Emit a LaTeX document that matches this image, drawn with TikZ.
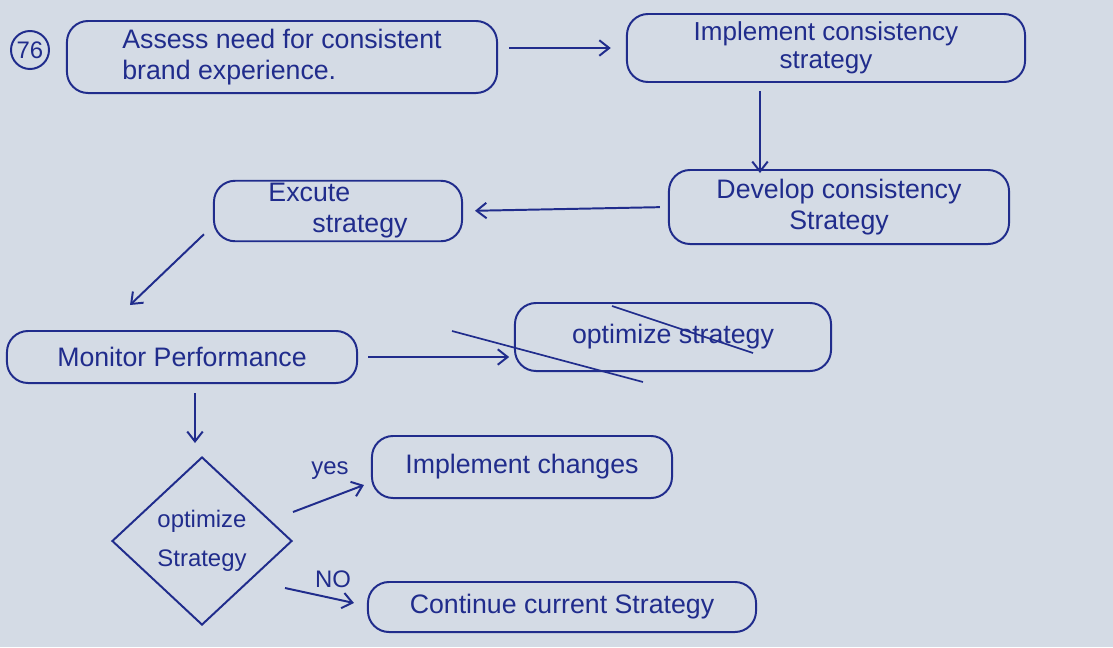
\documentclass[tikz,border=0pt]{standalone}
\usepackage{fontspec}
\setmainfont{Liberation Sans}
\usepackage{tikz}
\usetikzlibrary{arrows.meta,shapes,positioning,calc}
\definecolor{ink}{RGB}{32,44,140}
\definecolor{paper}{RGB}{212,219,229}

\begin{document}
\begin{tikzpicture}[
        x=0.025cm, y=-0.025cm,
        box/.style={rectangle, rounded corners=15pt, draw=ink, line width=1.4pt, text=ink, align=center, font=\fontsize{19}{22}\selectfont, inner sep=2pt},
        decision/.style={diamond, draw=ink, line width=1.4pt, text=ink, align=center, inner sep=0pt, font=\fontsize{17}{28}\selectfont},
        arrow/.style={line width=1.4pt, draw=ink, ->, >={Straight Barb[length=7pt,width=11pt]}},
        tag/.style={text=ink, font=\fontsize{17}{18}\selectfont},
    ]

    % Paper
    \fill[paper] (0,0) rectangle (1113,647);
    \useasboundingbox (0,0) rectangle (1113,647);

    % Top row
    \node[circle, draw=ink, line width=1.4pt, text=ink, minimum size=0.95cm, inner sep=0pt, font=\fontsize{17}{18}\selectfont] (num) at (30,50) {76};
    \node[box, align=left, minimum width=10.75cm, minimum height=1.8cm] (assess) at (282,57) {Assess need for consistent\\ brand experience.};
    \node[box, minimum width=9.95cm, minimum height=1.7cm, font=\fontsize{18.5}{20}\selectfont] (implement) at (826,48) {Implement consistency\\ strategy};

    % Second row
    \node[box, minimum width=8.5cm, minimum height=1.85cm] (develop) at (839,207) {Develop consistency\\ Strategy};
    \node[box, align=left, minimum width=6.2cm, minimum height=1.45cm] (execute) at (338,211) {Excute\\ \hspace*{1.1cm}strategy};

    % Third row
    \node[box, minimum width=8.75cm, minimum height=1.3cm] (monitor) at (182,357) {Monitor Performance};
    \node[box, minimum width=7.9cm, minimum height=1.7cm] (optimize) at (673,337) {optimize strategy};

    % Decision and outcomes
    \node[decision, minimum width=4.5cm, minimum height=4.2cm] (dia) at (202,541) {optimize\\ Strategy};
    \node[box, minimum width=7.5cm, minimum height=1.55cm] (changes) at (522,467) {Implement changes};
    \node[box, minimum width=9.7cm, minimum height=1.25cm] (continue) at (562,607) {Continue current Strategy};

    \node[tag] (yes) at (330,471) {yes};
    \node[tag] (no) at (333,579) {NO};

    % Main flow
    \draw[arrow, shorten <=0.28cm, shorten >=0.38cm] (assess.east |- implement.west) -- (implement.west);
    \draw[arrow] ($(implement.south)+(-66,8)$) -- ($(develop.north)+(-79,4)$);
    \draw[arrow, shorten <=0.2cm, shorten >=0.3cm] (develop.west) -- (execute.east);
    \draw[arrow] ($(execute.south west)+(-9,-8)$) -- ($(monitor.north)+(-52,-25)$);
    \draw[arrow, shorten <=0.25cm, shorten >=0.12cm] (monitor.east) -- (optimize.west |- monitor.east);
    \draw[arrow] ($(monitor.south)+(13,9)$) -- ($(dia.north)+(-7,-13)$);

    % Crossed out
    \draw[ink, line width=1.2pt] ($(optimize.center)+(-221,-6)$) -- ($(optimize.center)+(-30,45)$);
    \draw[ink, line width=1.2pt] ($(optimize.center)+(-61,-31)$) -- ($(optimize.center)+(80,16)$);

    % Decision branches
    \draw[arrow] ($(dia.east)+(0,-29)$) -- ($(changes.west)+(-7,18)$);
    \draw[arrow] ($(dia.east)+(-8,47)$) -- ($(continue.west)+(-13,-4)$);

\end{tikzpicture}
\end{document}
